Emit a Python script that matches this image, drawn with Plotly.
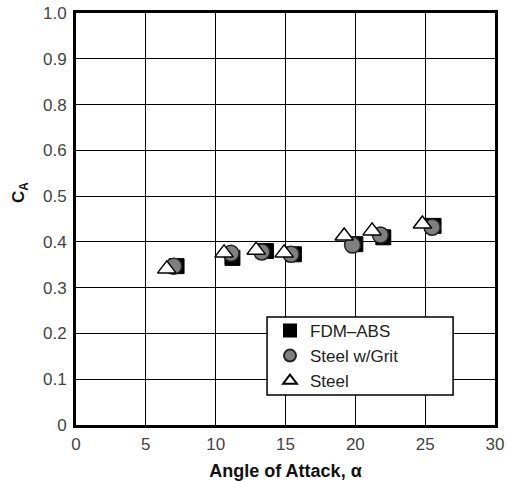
import plotly.graph_objects as go

# Data
abs_x = [7.2, 11.2, 13.6, 15.6, 20.0, 22.0, 25.6]
abs_y = [0.347, 0.365, 0.380, 0.373, 0.395, 0.410, 0.435]
grit_x = [7.0, 11.1, 13.3, 15.4, 19.8, 21.8, 25.5]
grit_y = [0.347, 0.375, 0.378, 0.373, 0.393, 0.415, 0.432]
steel_x = [6.5, 10.6, 12.9, 14.9, 19.2, 21.2, 24.8]
steel_y = [0.341, 0.376, 0.382, 0.376, 0.413, 0.424, 0.439]

x_ticks = [0, 5, 10, 15, 20, 25, 30]
y_tickvals = [0, 0.1, 0.2, 0.3, 0.4, 0.5, 0.6, 0.7, 0.8, 0.9]
y_ticktext = ["0", "0.1", "0.2", "0.3", "0.4", "0.5", "0.6", "0.8", "0.9", "1.0"]

fig = go.Figure()
fig.add_trace(go.Scatter(
    x=abs_x, y=abs_y, mode="markers", name="FDM\u2013ABS",
    marker=dict(symbol="square", size=15, color="#000000",
                line=dict(color="#000000", width=1))))
fig.add_trace(go.Scatter(
    x=grit_x, y=grit_y, mode="markers", name="Steel w/Grit",
    marker=dict(symbol="circle", size=16, color="#7f7f7f",
                line=dict(color="#222222", width=1.5))))
fig.add_trace(go.Scatter(
    x=steel_x, y=steel_y, mode="markers", name="Steel",
    marker=dict(symbol="triangle-up", size=16, color="#ffffff",
                line=dict(color="#000000", width=1.5))))

fig.update_layout(
    width=508, height=481,
    margin=dict(l=76, r=13, t=13, b=56, autoexpand=False),
    paper_bgcolor="white", plot_bgcolor="white",
    font=dict(family="Liberation Sans, Arial, sans-serif", size=17, color="#444444"),
    showlegend=True,
    legend=dict(
        x=0.463, y=0.272, xanchor="left", yanchor="top",
        bgcolor="rgba(0,0,0,0)", borderwidth=0,
        font=dict(size=17, color="#222222"),
        itemsizing="constant", tracegroupgap=0,
    ),
    shapes=[dict(type="rect", xref="paper", yref="paper",
                 x0=0.456, x1=0.900, y0=0.073, y1=0.262,
                 fillcolor="white", line=dict(color="black", width=1.5),
                 layer="above")],
    annotations=[dict(text="<b>C<sub>A</sub></b>", xref="paper", yref="paper",
                      x=0, y=0.563, xshift=-56, xanchor="center", yanchor="middle",
                      textangle=-90, showarrow=False,
                      font=dict(family="Liberation Sans, Arial, sans-serif",
                                size=17, color="#111111"))],
)
fig.update_xaxes(
    range=[0, 30], tickvals=x_ticks, showgrid=True, gridcolor="black", gridwidth=1.3,
    zeroline=False, showline=True, linecolor="black", linewidth=3, mirror=True,
    ticks="", ticklabelstandoff=2, automargin=False,
    title=dict(text="<b>Angle of Attack, \u03b1</b>", standoff=14,
               font=dict(family="Liberation Sans, Arial, sans-serif",
                         size=18, color="#111111")),
)
fig.update_yaxes(
    range=[0, 0.9], tickvals=y_tickvals, ticktext=y_ticktext,
    showgrid=True, gridcolor="black", gridwidth=1.3,
    zeroline=False, showline=True, linecolor="black", linewidth=3, mirror=True,
    ticks="", ticklabelstandoff=3, automargin=False,
)

fig.write_html("out.html", config={"displayModeBar": False},
               post_script="document.body.style.margin='0';document.body.style.padding='0';")
